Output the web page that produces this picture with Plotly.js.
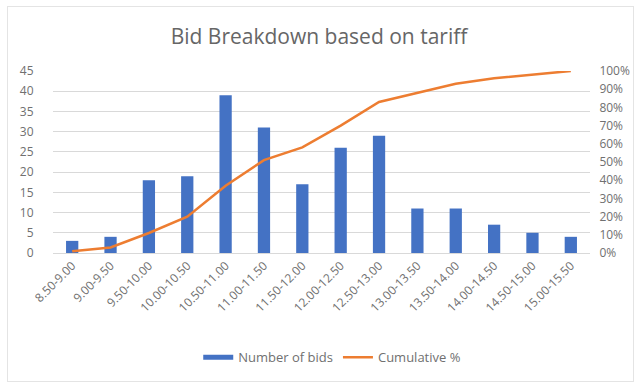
<!DOCTYPE html>
<html>
<head>
<meta charset="utf-8">
<script src="https://cdn.plot.ly/plotly-3.0.1.min.js"></script>
<style>
html,body{margin:0;padding:0;background:#fff;}
#wrap{position:relative;width:638px;height:385px;}
#chart{width:638px;height:385px;}
#frame{position:absolute;left:7px;top:6px;width:625px;height:374px;border:1px solid #e4e4e4;pointer-events:none;}
</style>
</head>
<body>
<div id="wrap"><div id="chart"></div><div id="frame"></div></div>
<script>
var categories = ["8.50-9.00","9.00-9.50","9.50-10.00","10.00-10.50","10.50-11.00","11.00-11.50","11.50-12.00","12.00-12.50","12.50-13.00","13.00-13.50","13.50-14.00","14.00-14.50","14.50-15.00","15.00-15.50"];
var numberOfBids = [3,4,18,19,39,31,17,26,29,11,11,7,5,4];
var cumulativePct = [1,3,11,20,37,51,58,70,83,88,93,96,98,100];
var leftTicks = [0,5,10,15,20,25,30,35,40,45];
var rightTicks = [0,10,20,30,40,50,60,70,80,90,100];
var rightTickLabels = ["0%","10%","20%","30%","40%","50%","60%","70%","80%","90%","100%"];

var txtColor = "#707070";
var fam = "Open Sans, Liberation Sans, sans-serif";

var data = [
  {type:"bar", name:"Number of bids", x:categories, y:numberOfBids,
   marker:{color:"#4472C4"}, width:0.32, showlegend:false},
  {type:"scatter", mode:"lines", name:"Number of bids", x:[null], y:[null],
   line:{color:"#4472C4", width:5}, showlegend:true, hoverinfo:"skip"},
  {type:"scatter", mode:"lines", name:"Cumulative %", x:categories, y:cumulativePct,
   yaxis:"y2", line:{color:"#ED7D31", width:2.5}}
];

var layout = {
  width:638, height:385,
  margin:{l:53, r:48, t:71, b:129},
  paper_bgcolor:"#fff", plot_bgcolor:"#fff",
  font:{family:fam, color:txtColor, size:12},
  title:{text:"Bid Breakdown based on tariff", x:0.5, xanchor:"center", y:0.905, yanchor:"middle",
         font:{family:fam, size:21, color:"#666666"}},
  showlegend:true,
  legend:{orientation:"h", x:0.52, xanchor:"center", y:-0.573, yanchor:"middle",
          font:{size:13, color:txtColor}, itemwidth:30, tracegroupgap:0},
  bargap:0.6,
  xaxis:{type:"category", tickangle:-45, tickfont:{size:12, color:txtColor},
         showgrid:false, showline:true, linecolor:"#d9d9d9", ticks:"", automargin:false},
  yaxis:{range:[0,45], tickvals:leftTicks, ticktext:leftTicks.map(String),
         showgrid:true, gridcolor:"#d9d9d9", zeroline:false,
         ticks:"outside", ticklen:16, tickcolor:"rgba(0,0,0,0)",
         tickfont:{size:12, color:txtColor}, automargin:false},
  yaxis2:{range:[0,100], overlaying:"y", side:"right", tickvals:rightTicks, ticktext:rightTickLabels,
          showgrid:false, zeroline:false, ticks:"outside", ticklen:6, tickcolor:"rgba(0,0,0,0)",
          tickfont:{size:12, color:txtColor}, automargin:false}
};

Plotly.newPlot("chart", data, layout, {displayModeBar:false, staticPlot:true});
</script>
</body>
</html>
